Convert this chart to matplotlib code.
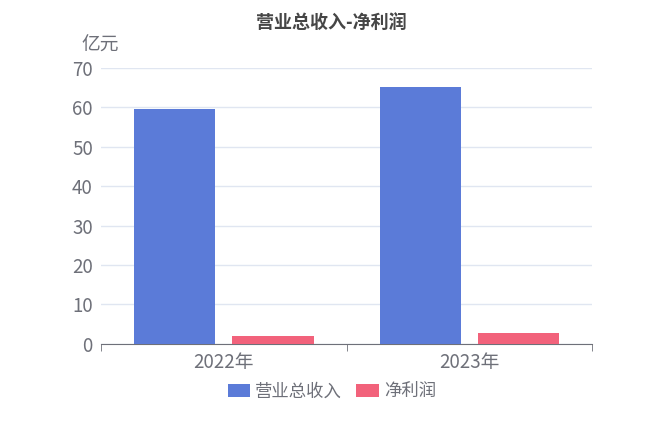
import numpy as np
import matplotlib.pyplot as plt

plt.rcParams['font.family'] = ['Noto Sans CJK SC', 'DejaVu Sans']

# 数据
years = ['2022年', '2023年']
revenue = [59.6, 65.2]
net_profit = [2.1, 2.8]
yticks = [0, 10, 20, 30, 40, 50, 60, 70]

blue = '#5b7bd8'
red = '#f2627b'
axis_color = '#6e7079'

fig = plt.figure(figsize=(6.48, 4.32), dpi=100)
ax = fig.add_axes([0.156, 0.204, 0.758, 0.639])

x = np.arange(len(years))
w = 0.33
ax.bar(x - 0.2, revenue, width=w, color=blue, label='营业总收入', zorder=3)
ax.bar(x + 0.2, net_profit, width=w, color=red, label='净利润', zorder=3)

ax.set_xlim(-0.5, 1.5)
ax.set_ylim(0, 70)
ax.set_yticks(yticks)
ax.yaxis.grid(True, color='#e0e6f1', linewidth=1, zorder=0)
ax.tick_params(axis='y', length=0, labelsize=13.5, colors=axis_color, pad=6)

ax.set_xticks(x)
ax.set_xticklabels(years)
ax.tick_params(axis='x', length=0, labelsize=13.5, colors=axis_color, pad=6)
ax.set_xticks([-0.5, 0.5, 1.5], minor=True)
ax.tick_params(axis='x', which='minor', length=5, color=axis_color)

for s in ['top', 'right', 'left']:
    ax.spines[s].set_visible(False)
ax.spines['bottom'].set_color(axis_color)

fig.text(0.512, 0.948, '营业总收入-净利润', ha='center', va='center',
         fontsize=13, fontweight='bold', color='#464646')
fig.text(0.154, 0.895, '亿元', ha='center', va='center', fontsize=13.5, color=axis_color)

leg = fig.legend(loc='center', bbox_to_anchor=(0.512, 0.094), ncol=2, frameon=False,
                 fontsize=12.5, handlelength=1.3, handleheight=0.8, handletextpad=0.3,
                 columnspacing=0.8)
for t in leg.get_texts():
    t.set_color(axis_color)

fig.savefig('out.png', dpi=100)
